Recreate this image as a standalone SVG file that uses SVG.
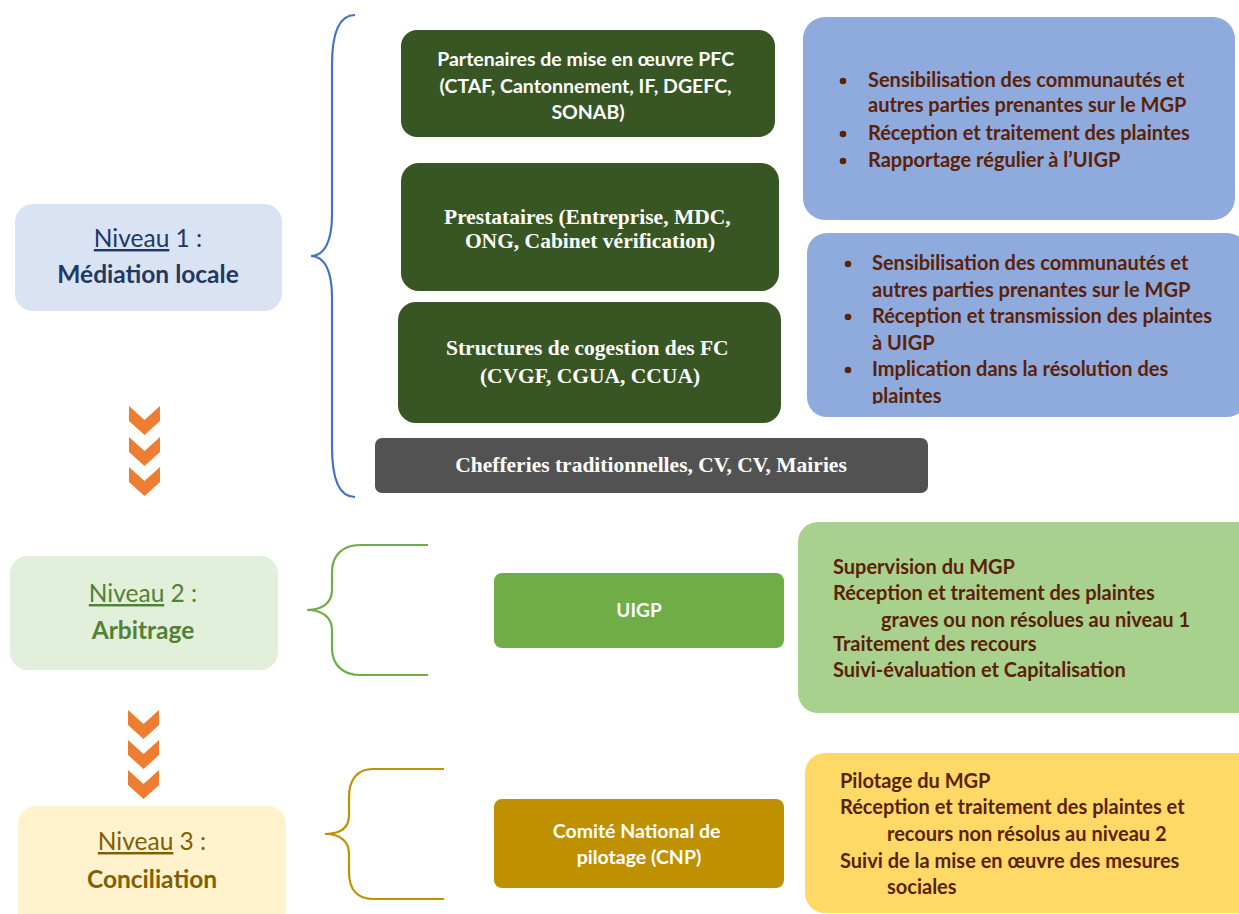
<svg xmlns="http://www.w3.org/2000/svg" width="1239" height="914" viewBox="0 0 1239 914">
<style>
.cal{font-family:Lato,"Open Sans","Liberation Sans",sans-serif}
.tnr{font-family:"Liberation Serif","Times New Roman",serif;font-weight:bold}
.lvl{font-size:24.5px}
.w{fill:#ffffff}
.br{fill:#5b2107;font-weight:bold;font-size:20px}
.brace{fill:none;stroke-width:2.2}
.chev{fill:#ed7d31}
</style>
<defs>
<clipPath id="clipB2"><rect x="807" y="233" width="432" height="171"/></clipPath>
<polygon id="chev" points="0,0 15.5,14 31,0 31,15 15.5,29 0,15"/>
</defs>
<rect width="1239" height="914" fill="#ffffff"/>

<g id="connectors">
<path class="brace" stroke="#4472c4" d="M355,15 C338,15 332,35 332,65 L332,215 C332,240 325,256 311,256 C325,256 332,272 332,297 L332,447 C332,477 338,497 355,497"/>
<path class="brace" stroke="#70ad47" d="M428,545 L360,545 C343,545 332,555 332,572 L332,590 C332,603 322,610 307,610 C322,610 332,617 332,630 L332,648 C332,665 343,675 360,675 L428,675"/>
<path class="brace" stroke="#bf9000" d="M444,769 L373,769 C357,769 349,780 349,797 L349,815 C349,828 340,834 325,834 C340,834 349,841 349,854 L349,872 C349,889 357,899 373,899 L444,899"/>
<g id="chevrons1">
<use href="#chev" class="chev" x="129" y="406"/>
<use href="#chev" class="chev" x="129" y="437"/>
<use href="#chev" class="chev" x="129" y="467"/>
</g>
<g id="chevrons2">
<use href="#chev" class="chev" x="128" y="710"/>
<use href="#chev" class="chev" x="128" y="740"/>
<use href="#chev" class="chev" x="128" y="770"/>
</g>
</g>

<g id="niveau1">
<rect x="15" y="204" width="267" height="107" rx="18" fill="#dae3f3"/>
<text class="cal lvl" x="148" y="247" text-anchor="middle" fill="#1f3864"><tspan text-decoration="underline">Niveau</tspan> 1 :</text>
<text class="cal lvl" x="148" y="283" text-anchor="middle" fill="#1f3864" font-weight="bold">Médiation locale</text>
</g>

<g id="partenaires">
<rect x="401" y="30" width="374" height="107" rx="16" fill="#375623"/>
<text class="cal w" font-weight="bold" font-size="19.5" text-anchor="middle">
<tspan x="588" y="66">Partenaires de mise en œuvre PFC</tspan>
<tspan x="588" y="93">(CTAF, Cantonnement, IF, DGEFC,</tspan>
<tspan x="588" y="119">SONAB)</tspan>
</text>
</g>

<g id="prestataires">
<rect x="401" y="163" width="378" height="128" rx="18" fill="#375623"/>
<text class="tnr w" font-size="21.5" text-anchor="middle">
<tspan x="590" y="224">Prestataires (Entreprise, MDC,</tspan>
<tspan x="590" y="248">ONG, Cabinet vérification)</tspan>
</text>
</g>

<g id="structures">
<rect x="398" y="302" width="383" height="121" rx="18" fill="#375623"/>
<text class="tnr w" font-size="21.5" text-anchor="middle">
<tspan x="590" y="355">Structures de cogestion des FC</tspan>
<tspan x="590" y="383">(CVGF, CGUA, CCUA)</tspan>
</text>
</g>

<g id="chefferies">
<rect x="375" y="438" width="553" height="55" rx="7" fill="#525252"/>
<text class="tnr w" font-size="21.5" x="651" y="472" text-anchor="middle">Chefferies traditionnelles, CV, CV, Mairies</text>
</g>

<g id="roles-partenaires">
<rect x="803" y="17" width="432" height="203" rx="22" fill="#8faadc"/>
<g fill="#5b2107"><circle cx="843" cy="81" r="3.3"/><circle cx="843" cy="134" r="3.3"/><circle cx="843" cy="161" r="3.3"/></g>
<text class="cal br">
<tspan x="868" y="87">Sensibilisation des communautés et</tspan>
<tspan x="868" y="112">autres parties prenantes sur le MGP</tspan>
<tspan x="868" y="140">Réception et traitement des plaintes</tspan>
<tspan x="868" y="167">Rapportage régulier à l’UIGP</tspan>
</text>
</g>

<g id="roles-structures">
<rect x="807" y="233" width="440" height="184" rx="20" fill="#8faadc"/>
<g fill="#5b2107"><circle cx="848" cy="264" r="3.3"/><circle cx="848" cy="317" r="3.3"/><circle cx="848" cy="370" r="3.3"/></g>
<text class="cal br" clip-path="url(#clipB2)">
<tspan x="872" y="270">Sensibilisation des communautés et</tspan>
<tspan x="872" y="296.5">autres parties prenantes sur le MGP</tspan>
<tspan x="872" y="323">Réception et transmission des plaintes</tspan>
<tspan x="872" y="349.5">à UIGP</tspan>
<tspan x="872" y="376">Implication dans la résolution des</tspan>
<tspan x="872" y="403">plaintes</tspan>
</text>
</g>

<g id="niveau2">
<rect x="10" y="556" width="268" height="114" rx="18" fill="#e2efda"/>
<text class="cal lvl" x="143" y="602" text-anchor="middle" fill="#538135"><tspan text-decoration="underline">Niveau</tspan> 2 :</text>
<text class="cal lvl" x="143" y="639" text-anchor="middle" fill="#538135" font-weight="bold">Arbitrage</text>
</g>

<g id="uigp">
<rect x="494" y="573" width="290" height="75" rx="8" fill="#70ad47"/>
<text class="cal w" font-weight="bold" font-size="19" x="639" y="617" text-anchor="middle">UIGP</text>
</g>

<g id="roles-uigp">
<rect x="798" y="522" width="460" height="191" rx="20" fill="#a9d18e"/>
<text class="cal br">
<tspan x="833" y="574">Supervision du MGP</tspan>
<tspan x="833" y="600">Réception et traitement des plaintes</tspan>
<tspan x="881" y="627">graves ou non résolues au niveau 1</tspan>
<tspan x="833" y="651">Traitement des recours</tspan>
<tspan x="833" y="677">Suivi-évaluation et Capitalisation</tspan>
</text>
</g>

<g id="niveau3">
<rect x="18" y="806" width="268" height="130" rx="18" fill="#fff2cc"/>
<text class="cal lvl" x="152" y="850" text-anchor="middle" fill="#7f6000"><tspan text-decoration="underline">Niveau</tspan> 3 :</text>
<text class="cal lvl" x="152" y="888" text-anchor="middle" fill="#7f6000" font-weight="bold">Conciliation</text>
</g>

<g id="cnp">
<rect x="494" y="799" width="290" height="89" rx="8" fill="#bf9000"/>
<text class="cal w" font-weight="bold" font-size="19.5" text-anchor="middle">
<tspan x="639" y="838">Comité National de</tspan>
<tspan x="639" y="864">pilotage (CNP)</tspan>
</text>
</g>

<g id="roles-cnp">
<rect x="805" y="753" width="460" height="160" rx="20" fill="#ffd966"/>
<text class="cal br">
<tspan x="840" y="788">Pilotage du MGP</tspan>
<tspan x="840" y="814">Réception et traitement des plaintes et</tspan>
<tspan x="887" y="841">recours non résolus au niveau 2</tspan>
<tspan x="840" y="868">Suivi de la mise en œuvre des mesures</tspan>
<tspan x="887" y="894">sociales</tspan>
</text>
</g>
</svg>
